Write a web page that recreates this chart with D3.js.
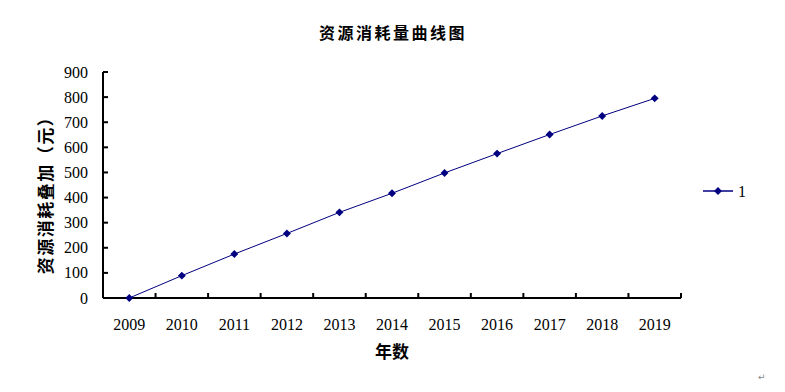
<!DOCTYPE html>
<html>
<head>
<meta charset="utf-8">
<script src="https://cdn.jsdelivr.net/npm/d3@7"></script>
<style>
  body { margin: 0; background: #fff; }
  svg { display: block; }
</style>
</head>
<body>
<div id="chart"></div>
<script>
// data
const years = ["2009", "2010", "2011", "2012", "2013", "2014", "2015", "2016", "2017", "2018", "2019"];
const values = [0, 89, 175, 257, 341, 417, 498, 575, 651, 725, 795];
const yTicks = [0, 100, 200, 300, 400, 500, 600, 700, 800, 900];
const seriesName = "1";

const W = 785, H = 392;
const margin = {top: 72, right: 104, bottom: 94, left: 103};
const width = W - margin.left - margin.right,
      height = H - margin.top - margin.bottom;

const cjk = "'Noto Sans CJK SC', sans-serif";
const serif = "'Liberation Serif', 'Times New Roman', serif";
const navy = "#000080";

const svg = d3.select("#chart").append("svg")
    .attr("width", W)
    .attr("height", H);

svg.append("text")
    .attr("x", 393)
    .attr("y", 39)
    .attr("text-anchor", "middle")
    .style("font-family", cjk)
    .style("font-weight", "bold")
    .style("font-size", "16px")
    .style("letter-spacing", "2.5px")
    .text("资源消耗量曲线图");

const g = svg.append("g")
    .attr("transform", "translate(" + margin.left + "," + margin.top + ")");

let x = d3.scaleBand()
    .domain(years)
    .range([0, width]);

let y = d3.scaleLinear()
    .domain([0, 900])
    .range([height, 0]);

// x axis: ticks between categories, pointing inward
g.append("line")
    .attr("x1", 0).attr("x2", width)
    .attr("y1", height).attr("y2", height)
    .attr("stroke", "#000").attr("stroke-width", 2);
g.selectAll(".xtick")
    .data(years)
    .enter()
    .append("line")
    .attr("x1", d => x(d) + x.bandwidth())
    .attr("x2", d => x(d) + x.bandwidth())
    .attr("y1", height)
    .attr("y2", height - 5)
    .attr("stroke", "#000").attr("stroke-width", 2);
g.selectAll(".xlab")
    .data(years)
    .enter()
    .append("text")
    .attr("x", d => x(d) + x.bandwidth() / 2)
    .attr("y", height + 32)
    .attr("text-anchor", "middle")
    .style("font-family", serif)
    .style("font-size", "16px")
    .text(d => d);

// y axis
g.append("line")
    .attr("x1", 0).attr("x2", 0)
    .attr("y1", 0).attr("y2", height)
    .attr("stroke", "#000").attr("stroke-width", 2);
g.selectAll(".ytick")
    .data(yTicks)
    .enter()
    .append("line")
    .attr("x1", 0).attr("x2", 5)
    .attr("y1", d => y(d)).attr("y2", d => y(d))
    .attr("stroke", "#000").attr("stroke-width", 2);
g.selectAll(".ylab")
    .data(yTicks)
    .enter()
    .append("text")
    .attr("x", -15)
    .attr("y", d => y(d))
    .attr("dy", "0.35em")
    .attr("text-anchor", "end")
    .style("font-family", serif)
    .style("font-size", "16px")
    .text(d => d);

// axis titles
svg.append("text")
    .attr("transform", "translate(52," + (margin.top + height / 2 + 6) + ") rotate(-90)")
    .attr("text-anchor", "middle")
    .style("font-family", cjk)
    .style("font-weight", "bold")
    .style("font-size", "17px")
    .style("letter-spacing", "1.5px")
    .text("资源消耗叠加（元）");

svg.append("text")
    .attr("x", 392)
    .attr("y", 358)
    .attr("text-anchor", "middle")
    .style("font-family", cjk)
    .style("font-weight", "bold")
    .style("font-size", "17px")
    .text("年数");

// line + markers
const line = d3.line()
    .x((d, i) => x(years[i]) + x.bandwidth() / 2)
    .y(d => y(d));

g.append("path")
    .datum(values)
    .attr("d", line)
    .attr("fill", "none")
    .attr("stroke", navy)
    .attr("stroke-width", 1);

const diamond = d3.symbol().type(d3.symbolDiamond2).size(40);
g.selectAll(".pt")
    .data(values)
    .enter()
    .append("path")
    .attr("d", diamond)
    .attr("transform", (d, i) => "translate(" + (x(years[i]) + x.bandwidth() / 2) + "," + y(d) + ")")
    .attr("fill", navy);

// legend
const lg = svg.append("g").attr("transform", "translate(703,191)");
lg.append("line")
    .attr("x1", 0).attr("x2", 30)
    .attr("y1", 0).attr("y2", 0)
    .attr("stroke", navy).attr("stroke-width", 1.5);
lg.append("path")
    .attr("d", diamond)
    .attr("transform", "translate(15,0)")
    .attr("fill", navy);
lg.append("text")
    .attr("x", 35)
    .attr("y", 0)
    .attr("dy", "0.35em")
    .style("font-family", serif)
    .style("font-size", "16px")
    .text(seriesName);

// paragraph mark at bottom right
svg.append("text")
    .attr("x", 758)
    .attr("y", 380)
    .style("font-family", "'DejaVu Sans', sans-serif")
    .style("font-size", "9px")
    .attr("fill", "#888")
    .text("↵");
</script>
</body>
</html>
